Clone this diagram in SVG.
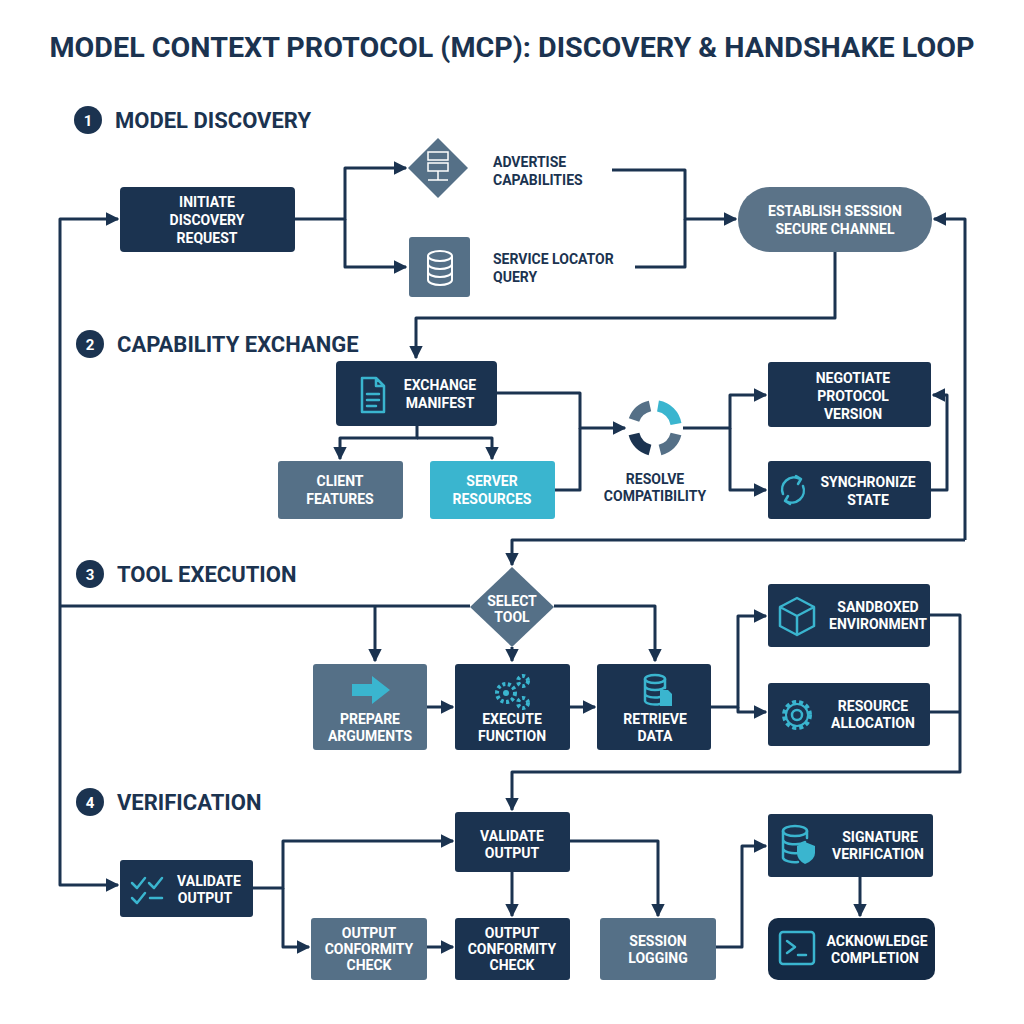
<svg xmlns="http://www.w3.org/2000/svg" width="1024" height="1024" viewBox="0 0 1024 1024">
<defs>
<marker id="ah" viewBox="0 0 10 10" refX="9" refY="5" markerWidth="4.5" markerHeight="4.5" orient="auto" markerUnits="strokeWidth"><path d="M0,0 L10,5 L0,10 z" fill="#1b3350"/></marker>
<style>
.t{font-family:Roboto,"Liberation Sans",sans-serif;font-weight:700;fill:#fff;font-size:14px;text-anchor:middle}
.d{fill:#1b3350}.s{fill:#557087}.c{fill:#3ab5cf}
.h{font-family:Roboto,"Liberation Sans",sans-serif;font-weight:700;fill:#1b3350;font-size:22px}
.n{font-family:Roboto,"Liberation Sans",sans-serif;font-weight:700;fill:#fff;font-size:15px;text-anchor:middle}
.dk{font-family:Roboto,"Liberation Sans",sans-serif;font-weight:700;fill:#1b3350;font-size:14px}
.ln path{fill:none;stroke:#1b3350;stroke-width:3;stroke-linejoin:round}
.ic{fill:none;stroke:#3ab5cf;stroke-width:2.5;stroke-linecap:round;stroke-linejoin:round}
</style>
</defs>
<rect width="1024" height="1024" fill="#fff"/>
<text x="512" y="57" font-family="Roboto,'Liberation Sans',sans-serif" font-weight="700" font-size="27" fill="#1b3350" text-anchor="middle" textLength="925" lengthAdjust="spacingAndGlyphs">MODEL CONTEXT PROTOCOL (MCP): DISCOVERY &amp; HANDSHAKE LOOP</text>
<g id="sections">
<circle cx="88" cy="120" r="14" class="d"/><text x="88" y="126" class="n">1</text><text x="115" y="128" class="h">MODEL DISCOVERY</text>
<circle cx="90" cy="344" r="14" class="d"/><text x="90" y="350" class="n">2</text><text x="117" y="352" class="h">CAPABILITY EXCHANGE</text>
<circle cx="90" cy="574" r="14" class="d"/><text x="90" y="580" class="n">3</text><text x="117" y="582" class="h">TOOL EXECUTION</text>
<circle cx="90" cy="802" r="14" class="d"/><text x="90" y="808" class="n">4</text><text x="117" y="810" class="h">VERIFICATION</text>
</g>
<g class="ln" id="connectors">
<path d="M295,219 H345 V168 H406" marker-end="url(#ah)"/>
<path d="M345,219 V267 H406" marker-end="url(#ah)"/>
<path d="M612,170 H685 V219 H736" marker-end="url(#ah)"/>
<path d="M635,267 H685 V219"/>
<path d="M835,252 V318 H416 V358" marker-end="url(#ah)"/>
<path d="M60,606 V219 H118" marker-end="url(#ah)"/>
<path d="M965,540 V219 H934" marker-end="url(#ah)"/>
<path d="M417,426 V438 H340 V459" marker-end="url(#ah)"/>
<path d="M417,438 H492 V459" marker-end="url(#ah)"/>
<path d="M497,393 H580 V428 H625" marker-end="url(#ah)"/>
<path d="M555,490 H580 V428"/>
<path d="M683,428 H730 V395 H766" marker-end="url(#ah)"/>
<path d="M730,428 V490 H766" marker-end="url(#ah)"/>
<path d="M931,490 H947 V395 H933" marker-end="url(#ah)"/>
<path d="M965,540 H512 V565" marker-end="url(#ah)"/>
<path d="M60,606 H470"/>
<path d="M375,606 V661" marker-end="url(#ah)"/>
<path d="M554,606 H655 V661" marker-end="url(#ah)"/>
<path d="M512,647 V661" marker-end="url(#ah)"/>
<path d="M60,606 V885 H118" marker-end="url(#ah)"/>
<path d="M427,707 H453" marker-end="url(#ah)"/>
<path d="M570,707 H595" marker-end="url(#ah)"/>
<path d="M711,707 H738 V616 H766" marker-end="url(#ah)"/>
<path d="M738,707 V712 H766" marker-end="url(#ah)"/>
<path d="M930,615 H960 V772 H512 V810" marker-end="url(#ah)"/>
<path d="M930,712 H960"/>
<path d="M253,888 H283 V841 H453" marker-end="url(#ah)"/>
<path d="M283,888 V947 H309" marker-end="url(#ah)"/>
<path d="M427,947 H453" marker-end="url(#ah)"/>
<path d="M512,872 V916" marker-end="url(#ah)"/>
<path d="M570,841 H658 V916" marker-end="url(#ah)"/>
<path d="M716,947 H742 V846 H766" marker-end="url(#ah)"/>
<path d="M860,877 V916" marker-end="url(#ah)"/>
</g>
<g id="initiate"><rect x="120" y="187" width="175" height="65" rx="4" class="d"/><text class="t" x="207" y="207">INITIATE</text><text class="t" x="207" y="225">DISCOVERY</text><text class="t" x="207" y="243">REQUEST</text></g>
<g id="advertise"><path d="M438,138 L468,168 L438,198 L408,168 z" class="s"/>
<rect x="428" y="152" width="20" height="8" fill="none" stroke="#fff" stroke-width="1.5"/><rect x="428" y="163" width="20" height="8" fill="none" stroke="#fff" stroke-width="1.5"/><path d="M438,171 V180 M428,180 H448" stroke="#fff" stroke-width="1.5"/>
<text class="dk" x="493" y="167">ADVERTISE</text><text class="dk" x="493" y="185">CAPABILITIES</text></g>
<g id="locator"><rect x="409" y="237" width="61" height="60" rx="3" class="s"/>
<g fill="none" stroke="#fff" stroke-width="2"><ellipse cx="440" cy="256" rx="12" ry="5"/><path d="M428,256 V280 A12,5 0 0 0 452,280 V256 M428,264 A12,5 0 0 0 452,264 M428,272 A12,5 0 0 0 452,272"/></g>
<text class="dk" x="493" y="264">SERVICE LOCATOR</text><text class="dk" x="493" y="282">QUERY</text></g>
<g id="establish"><rect x="738" y="187" width="194" height="65" rx="32" fill="#5b7388"/><text class="t" x="835" y="216">ESTABLISH SESSION</text><text class="t" x="835" y="234">SECURE CHANNEL</text></g>
<g id="manifest"><rect x="336" y="361" width="161" height="65" rx="4" class="d"/>
<path class="ic" d="M362,378 H376 L384,386 V412 H362 z M376,378 V386 H384 M367,394 H379 M367,400 H379 M367,406 H376"/>
<text class="t" x="440" y="390">EXCHANGE</text><text class="t" x="440" y="408">MANIFEST</text></g>
<g id="client"><rect x="278" y="461" width="125" height="58" rx="3" class="s"/><text class="t" x="340" y="486">CLIENT</text><text class="t" x="340" y="504">FEATURES</text></g>
<g id="server"><rect x="430" y="461" width="125" height="58" rx="3" class="c"/><text class="t" x="492" y="486">SERVER</text><text class="t" x="492" y="504">RESOURCES</text></g>
<g id="resolve"><g fill="none" stroke-width="11"><path d="M634,420 A22,22 0 0 1 650,406" stroke="#557087"/><path d="M658,406 A22,22 0 0 1 676,424" stroke="#3ab5cf"/><path d="M676,434 A22,22 0 0 1 660,450" stroke="#557087"/><path d="M650,450 A22,22 0 0 1 634,434" stroke="#1b3350"/></g>
<text class="dk" x="655" y="484" text-anchor="middle">RESOLVE</text><text class="dk" x="655" y="501" text-anchor="middle">COMPATIBILITY</text></g>
<g id="negotiate"><rect x="768" y="362" width="163" height="65" rx="3" class="d"/><text class="t" x="853" y="383">NEGOTIATE</text><text class="t" x="853" y="401">PROTOCOL</text><text class="t" x="853" y="419">VERSION</text></g>
<g id="sync"><rect x="768" y="461" width="163" height="58" rx="3" class="d"/>
<path class="ic" d="M783,494 A12,12 0 0 1 800,479 M803,486 A12,12 0 0 1 786,501 M796,476 L801,479 L798,484 M790,504 L785,501 L788,496"/>
<text class="t" x="868" y="487">SYNCHRONIZE</text><text class="t" x="868" y="505">STATE</text></g>
<g id="select"><path d="M512,567 L554,607 L512,647 L470,607 z" fill="#557087"/><text class="t" x="512" y="606" font-size="13">SELECT</text><text class="t" x="512" y="622" font-size="13">TOOL</text></g>
<g id="prepare"><rect x="313" y="664" width="114" height="86" rx="3" class="s"/><path d="M352,684 H372 V676 L390,690 L372,704 V696 H352 z" fill="#3ab5cf"/><text class="t" x="370" y="724">PREPARE</text><text class="t" x="370" y="741">ARGUMENTS</text></g>
<g id="execute"><rect x="455" y="664" width="115" height="86" rx="3" class="d"/>
<g fill="none" stroke="#3ab5cf" stroke-width="4" stroke-dasharray="3 2.5"><circle cx="506" cy="693" r="9"/><circle cx="523" cy="681" r="5"/><circle cx="523" cy="703" r="5"/></g><circle cx="506" cy="693" r="3" fill="#3ab5cf"/>
<text class="t" x="512" y="724">EXECUTE</text><text class="t" x="512" y="741">FUNCTION</text></g>
<g id="retrieve"><rect x="597" y="664" width="114" height="86" rx="3" class="d"/>
<g class="ic"><ellipse cx="655" cy="679" rx="10" ry="4"/><path d="M645,679 V701 A10,4 0 0 0 660,704 M645,686 A10,4 0 0 0 665,686 M645,694 A10,4 0 0 0 660,697 M665,679 V688"/></g><path d="M660,690 H668 L672,694 V706 H660 z" fill="#3ab5cf"/>
<text class="t" x="655" y="724">RETRIEVE</text><text class="t" x="655" y="741">DATA</text></g>
<g id="sandbox"><rect x="768" y="584" width="162" height="63" rx="3" class="d"/>
<path class="ic" d="M797,598 L814,607 V626 L797,635 L780,626 V607 z M780,607 L797,616 L814,607 M797,616 V635"/>
<text class="t" x="878" y="612">SANDBOXED</text><text class="t" x="878" y="629">ENVIRONMENT</text></g>
<g id="resource"><rect x="768" y="683" width="162" height="63" rx="3" class="d"/>
<circle cx="797" cy="715" r="13" fill="none" stroke="#3ab5cf" stroke-width="4" stroke-dasharray="4 3"/><circle cx="797" cy="715" r="11" fill="none" stroke="#3ab5cf" stroke-width="2"/><circle cx="797" cy="715" r="5" class="ic"/>
<text class="t" x="873" y="711">RESOURCE</text><text class="t" x="873" y="728">ALLOCATION</text></g>
<g id="validate-top"><rect x="455" y="812" width="115" height="60" rx="3" class="d"/><text class="t" x="512" y="841">VALIDATE</text><text class="t" x="512" y="858">OUTPUT</text></g>
<g id="validate-left"><rect x="120" y="860" width="133" height="57" rx="3" class="d"/>
<path class="ic" d="M132,883 L137,888 L145,878 M149,883 L154,888 L162,878 M132,898 L137,903 L145,893 M150,898 H162"/>
<text class="t" x="209" y="886">VALIDATE</text><text class="t" x="205" y="903">OUTPUT</text></g>
<g id="conformity1"><rect x="311" y="918" width="116" height="62" rx="3" class="s"/><text class="t" x="369" y="938">OUTPUT</text><text class="t" x="369" y="954">CONFORMITY</text><text class="t" x="369" y="970">CHECK</text></g>
<g id="conformity2"><rect x="455" y="918" width="115" height="62" rx="3" class="d"/><text class="t" x="512" y="938">OUTPUT</text><text class="t" x="512" y="954">CONFORMITY</text><text class="t" x="512" y="970">CHECK</text></g>
<g id="logging"><rect x="600" y="918" width="116" height="62" rx="3" class="s"/><text class="t" x="658" y="946">SESSION</text><text class="t" x="658" y="963">LOGGING</text></g>
<g id="signature"><rect x="768" y="814" width="165" height="63" rx="3" class="d"/>
<g class="ic"><ellipse cx="795" cy="831" rx="12" ry="5"/><path d="M783,831 V858 A12,5 0 0 0 798,862 M783,840 A12,5 0 0 0 805,842 M783,849 A12,5 0 0 0 798,853 M807,831 V838"/></g><path d="M805,842 L815,846 V853 Q815,860 805,864 Q797,860 797,853 V846 z" fill="#3ab5cf"/>
<text class="t" x="880" y="842">SIGNATURE</text><text class="t" x="878" y="859">VERIFICATION</text></g>
<g id="acknowledge"><rect x="768" y="918" width="167" height="62" rx="10" fill="#142a45"/>
<rect x="780" y="932" width="34" height="32" rx="3" class="ic"/><path class="ic" d="M787,941 L795,947 L787,953 M798,955 H806"/>
<text class="t" x="877" y="946">ACKNOWLEDGE</text><text class="t" x="875" y="963">COMPLETION</text></g>
</svg>
